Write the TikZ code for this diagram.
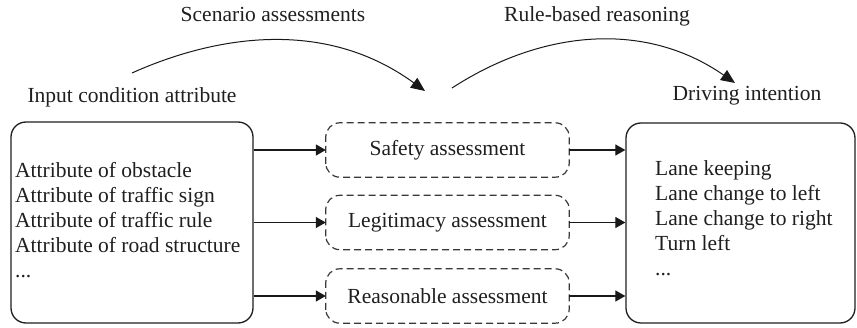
\documentclass[tikz,border=0pt]{standalone}
\usepackage{fontspec}
\setmainfont{Liberation Serif}
\usetikzlibrary{arrows.meta}
\begin{document}
\begin{tikzpicture}[x=1pt,y=-1pt,
  txt/.style={font=\fontsize{21.5}{25}\selectfont, inner sep=0pt, text=black!88},
  solidbox/.style={draw=black!88, line width=1.3pt, rounded corners=15pt, inner sep=0pt},
  midbox/.style={txt, minimum width=243pt, minimum height=54pt},
  dashbox/.style={draw=black!78, line width=1.2pt, rounded corners=14pt, dash pattern=on 7pt off 4pt, dash phase=3.5pt},
  arr/.style={draw=black!90, line width=1.2pt, -{Triangle[length=10pt,width=11pt]}},
  curvearr/.style={draw=black!90, line width=1pt, -{Triangle[length=14pt,width=12pt]}}
]
\useasboundingbox (0,0) rectangle (857,328);

% left box
\node[solidbox, minimum width=242pt, minimum height=201pt] (L) at (132,222.5) {};
\node[txt, anchor=west, align=left] (Lt) at (15,220) {Attribute of obstacle\\Attribute of traffic sign\\Attribute of traffic rule\\Attribute of road structure\\...};

% middle dashed boxes
\node[midbox] (S) at (447.5,150) {Safety assessment};
\node[midbox] (G) at (447.5,222.5) {Legitimacy assessment};
\node[midbox] (Q) at (447.5,296) {Reasonable assessment};
\foreach \n in {S,G,Q}{
  \draw[dashbox] (\n.west) -- (\n.north west) -- (\n.north east) -- (\n.south east) -- (\n.south west) -- cycle;
}

% right box
\node[solidbox, minimum width=229pt, minimum height=200pt] (R) at (740.5,223) {};
\node[txt, anchor=west, align=left] (Rt) at (655,218) {Lane keeping\\Lane change to left\\Lane change to right\\Turn left\\...};

% connectors
\foreach \n in {S,G,Q}{
  \draw[arr] (\n.west -| L.east) -- (\n.west);
  \draw[arr] (\n.east) -- (\n.east -| R.west);
}

% top labels
\node[txt] (ica) at (132,97) {Input condition attribute};
\node[txt] (sa) at (273,14) {Scenario assessments};
\node[txt] (rb) at (597,16) {Rule-based reasoning};
\node[txt] (di) at (747,96) {Driving intention};

% curved arrows
\coordinate (a1) at (132,73);
\coordinate (a2) at (425,91);
\coordinate (b1) at (452,88);
\coordinate (b2) at (735,83);
\draw[curvearr] (a1) .. controls (203,41) and (318,13) .. (a2);
\draw[curvearr] (b1) .. controls (543,29) and (646,21) .. (b2);
\end{tikzpicture}
\end{document}
